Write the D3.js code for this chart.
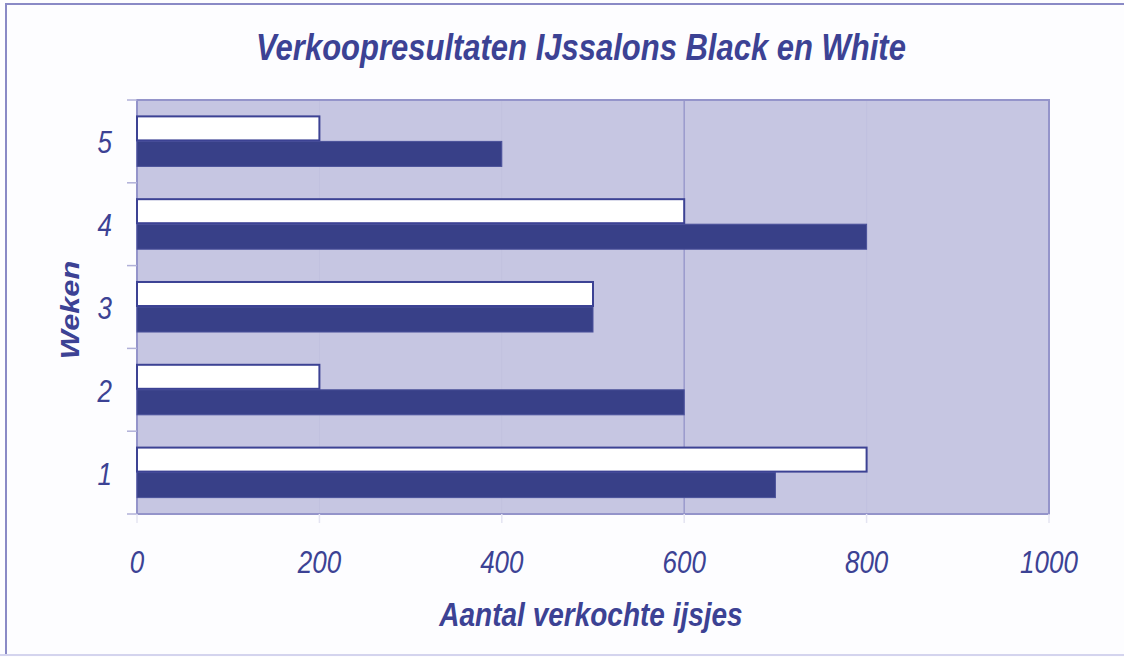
<!DOCTYPE html>
<html>
<head>
<meta charset="utf-8">
<script src="https://cdn.jsdelivr.net/npm/d3@7"></script>
<style>
  html, body { margin: 0; padding: 0; background: #fdfdff; }
  svg { display: block; font-family: "Liberation Sans", Arial, sans-serif; }
</style>
</head>
<body>
<div id="chart"></div>
<script>
// weken van boven naar beneden zoals in de grafiek
const weeks = ["5", "4", "3", "2", "1"];
const whiteSales = [200, 600, 500, 200, 800];
const blackSales = [400, 800, 500, 600, 700];
const xTicks = [0, 200, 400, 600, 800, 1000];

const width = 1124, height = 657;
const plotLeft = 137, plotRight = 1049, plotTop = 100, plotBottom = 514;
const ink = "#3c4294";
const stretch = 1.18; // tekst is in het origineel wat hoger uitgerekt

const svg = d3.select("#chart").append("svg")
    .attr("width", width)
    .attr("height", height);

// buitenrand
svg.append("rect")
    .attr("x", 6).attr("y", 4)
    .attr("width", 1130).attr("height", 651)
    .attr("fill", "#fdfdff")
    .attr("stroke", "#8a8ac6")
    .attr("stroke-width", 2);
svg.append("line")
    .attr("x1", 0).attr("x2", width).attr("y1", 655).attr("y2", 655)
    .attr("stroke", "#d4d4ee").attr("stroke-width", 2);

const x = d3.scaleLinear().domain([0, 1000]).range([plotLeft, plotRight]);
const y = d3.scaleBand().domain(weeks).range([plotTop, plotBottom])
    .paddingInner(0.42).paddingOuter(0.21);
const sub = d3.scaleBand().domain(["white", "black"]).range([0, y.bandwidth()]);

// plotgebied
svg.append("rect")
    .attr("x", plotLeft).attr("y", plotTop)
    .attr("width", plotRight - plotLeft).attr("height", plotBottom - plotTop)
    .attr("fill", "#c6c6e2");

// rasterlijnen (alleen 600 duidelijk zichtbaar)
svg.append("g").selectAll("line")
    .data(xTicks.slice(1, -1))
    .join("line")
    .attr("x1", d => x(d)).attr("x2", d => x(d))
    .attr("y1", plotTop).attr("y2", plotBottom)
    .attr("stroke", d => d === 600 ? "#9a9acc" : "#c1c1df")
    .attr("stroke-width", d => d === 600 ? 1.5 : 1);

// kader van plotgebied
svg.append("rect")
    .attr("x", plotLeft).attr("y", plotTop)
    .attr("width", plotRight - plotLeft).attr("height", plotBottom - plotTop)
    .attr("fill", "none")
    .attr("stroke", "#9494ca")
    .attr("stroke-width", 2);

// tick streepjes
svg.append("g").selectAll("line")
    .data(d3.range(weeks.length + 1))
    .join("line")
    .attr("x1", plotLeft - 10).attr("x2", plotLeft)
    .attr("y1", i => plotTop + i * y.step())
    .attr("y2", i => plotTop + i * y.step())
    .attr("stroke", "#b0b0d8").attr("stroke-width", 1.5);
svg.append("g").selectAll("line")
    .data(xTicks)
    .join("line")
    .attr("x1", d => x(d)).attr("x2", d => x(d))
    .attr("y1", plotBottom).attr("y2", plotBottom + 9)
    .attr("stroke", "#e4e4f2").attr("stroke-width", 1.5);

// balken
const groups = svg.append("g").selectAll("g")
    .data(weeks.map((w, i) => ({ week: w, white: whiteSales[i], black: blackSales[i] })))
    .join("g")
    .attr("transform", d => `translate(0,${y(d.week)})`);

groups.append("rect")
    .attr("x", x(0))
    .attr("y", sub("black"))
    .attr("width", d => x(d.black) - x(0))
    .attr("height", sub.bandwidth() + 1)
    .attr("fill", "#384088")
    .attr("stroke", "#4a519a")
    .attr("stroke-width", 1);

groups.append("rect")
    .attr("x", x(0))
    .attr("y", sub("white") - 1)
    .attr("width", d => x(d.white) - x(0))
    .attr("height", sub.bandwidth())
    .attr("fill", "#ffffff")
    .attr("stroke", "#3c4294")
    .attr("stroke-width", 2);

// aslabels
svg.append("g").selectAll("text")
    .data(xTicks)
    .join("text")
    .attr("transform", d => `translate(${x(d)},573) scale(1,${stretch})`)
    .attr("text-anchor", "middle")
    .attr("font-size", 26)
    .attr("font-style", "italic")
    .attr("fill", ink)
    .text(d => d);

svg.append("g").selectAll("text")
    .data(weeks)
    .join("text")
    .attr("transform", d => `translate(112,${y(d) + y.bandwidth() / 2 + 12}) scale(1,${stretch})`)
    .attr("text-anchor", "end")
    .attr("font-size", 26)
    .attr("font-style", "italic")
    .attr("fill", ink)
    .text(d => d);

// titels
svg.append("text")
    .attr("transform", `translate(581,60) scale(1,${stretch})`)
    .attr("text-anchor", "middle")
    .attr("font-size", 31)
    .attr("font-weight", "bold")
    .attr("font-style", "italic")
    .attr("fill", ink)
    .text("Verkoopresultaten IJssalons Black en White");

svg.append("text")
    .attr("transform", `translate(591,626) scale(1,${stretch})`)
    .attr("text-anchor", "middle")
    .attr("font-size", 28)
    .attr("font-weight", "bold")
    .attr("font-style", "italic")
    .attr("fill", ink)
    .text("Aantal verkochte ijsjes");

svg.append("text")
    .attr("transform", `translate(79,310) rotate(-90) scale(${stretch},1)`)
    .attr("text-anchor", "middle")
    .attr("font-size", 26)
    .attr("font-weight", "bold")
    .attr("font-style", "italic")
    .attr("fill", ink)
    .text("Weken");
</script>
</body>
</html>
